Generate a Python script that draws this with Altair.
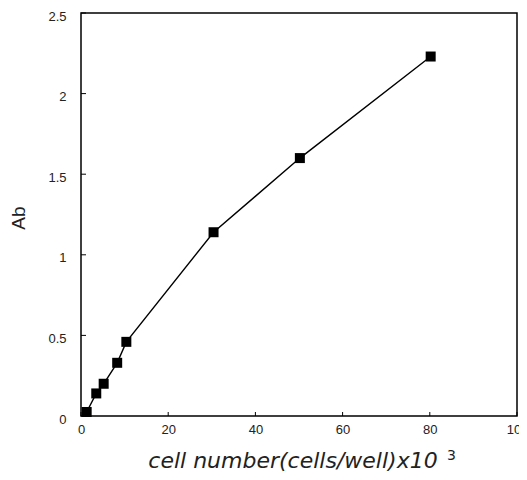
import altair as alt
import pandas as pd

cells = [1.3, 3.5, 5.2, 8.3, 10.4, 30.4, 50.2, 80.2]
ab = [0.025, 0.14, 0.20, 0.33, 0.46, 1.14, 1.60, 2.23]
x_ticks = [0, 20, 40, 60, 80, 100]
y_ticks = [0, 0.5, 1, 1.5, 2, 2.5]

df = pd.DataFrame({"cells": cells, "ab": ab})
xt = pd.DataFrame({"v": x_ticks})
yt = pd.DataFrame({"v": y_ticks})

FONT = "Liberation Sans"
TFONT = "DejaVu Sans"
xs = alt.Scale(domain=[0, 100], nice=False)
ys = alt.Scale(domain=[0, 2.5], nice=False)

base = alt.Chart(df)
line = base.mark_line(color="black", strokeWidth=1.4).encode(
    x=alt.X("cells:Q", scale=xs,
            axis=alt.Axis(values=x_ticks, title=None, labelFont=FONT, labelFontSize=13,
                          labelColor="#222", labelPadding=7, ticks=False, domain=False,
                          grid=False, labelFlush=False, format="d")),
    y=alt.Y("ab:Q", scale=ys,
            axis=alt.Axis(values=y_ticks, title=None, labelFont=FONT, labelFontSize=13,
                          labelColor="#222", labelPadding=15, labelOffset=3, ticks=False,
                          domain=False, grid=False, labelFlush=False,
                          labelExpr="toString(datum.value)")),
)
pts = base.mark_point(shape="square", filled=True, color="black", opacity=1, size=100).encode(
    x=alt.X("cells:Q", scale=xs), y=alt.Y("ab:Q", scale=ys))

xtick = alt.Chart(xt).mark_rule(color="black", strokeWidth=1).encode(
    x=alt.X("v:Q", scale=xs), y=alt.value(403), y2=alt.value(399))
ytick = alt.Chart(yt).mark_rule(color="black", strokeWidth=1).encode(
    y=alt.Y("v:Q", scale=ys), x=alt.value(0), x2=alt.value(5))

xtitle = alt.Chart(pd.DataFrame({"t": ["cell number(cells/well)x10"]})).mark_text(
    font=TFONT, fontSize=22, fontStyle="italic", color="#222", align="center",
    baseline="alphabetic"
).encode(text="t:N", x=alt.value(212), y=alt.value(455))

sup = alt.Chart(pd.DataFrame({"t": ["3"]})).mark_text(
    font=TFONT, fontSize=14, color="#222", align="left", baseline="alphabetic"
).encode(text="t:N", x=alt.value(366), y=alt.value(447))

ytitle = alt.Chart(pd.DataFrame({"t": ["Ab"]})).mark_text(
    font=FONT, fontSize=19, color="#222", align="center", baseline="middle", angle=270
).encode(text="t:N", x=alt.value(-62), y=alt.value(205))

chart = alt.layer(line, pts, xtick, ytick, xtitle, sup, ytitle).properties(
    width=436, height=403,
    autosize=alt.AutoSizeParams(type="none"),
    padding={"left": 73, "top": 5, "right": 2, "bottom": 56},
).configure_view(stroke="black", strokeWidth=1.5)

chart.save("out.html", embed_options={"renderer": "svg", "actions": False})
